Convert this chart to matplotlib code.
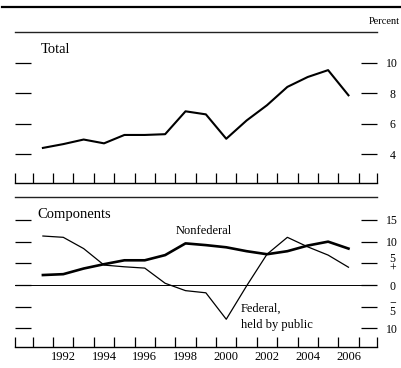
import numpy as np
import matplotlib
matplotlib.use("Agg")
import matplotlib.pyplot as plt
from matplotlib.lines import Line2D

plt.rcParams['font.family'] = ['Liberation Serif', 'DejaVu Serif']

# annual growth, percent
years = list(range(1991, 2007))
total = [4.4, 4.65, 4.95, 4.7, 5.25, 5.25, 5.3, 6.8, 6.6, 5.0, 6.2, 7.2, 8.4, 9.05, 9.5, 7.85]
nonfederal = [2.3, 2.5, 3.8, 4.8, 5.7, 5.7, 6.9, 9.6, 9.2, 8.7, 7.8, 7.1, 7.8, 9.1, 10.0, 8.4]
federal = [11.3, 11.0, 8.4, 4.6, 4.2, 3.9, 0.4, -1.3, -1.8, -7.9, -0.2, 7.1, 11.0, 8.8, 6.9, 4.1]

year_labels = ['1992', '1994', '1996', '1998', '2000', '2002', '2004', '2006']
total_ticks = [4, 6, 8, 10]
total_ticklabels = ['4', '6', '8', '10']
comp_ticks = [-10, -5, 0, 5, 10, 15]
comp_ticklabels = ['10', '\u2212\n5', '0', '5\n+', '10', '15']

W, H = 402, 368
fig = plt.figure(figsize=(W / 100, H / 100), dpi=100)

def box(x0, y0, x1, y1):
    return [x0 / W, 1 - y1 / H, (x1 - x0) / W, (y1 - y0) / H]

ax1 = fig.add_axes(box(15, 32, 377, 183))
ax2 = fig.add_axes(box(15, 197, 377, 347))

xpos = np.array(years) + 0.5
xlim = (1990.13, 2007.9)

for ax in (ax1, ax2):
    ax.set_xlim(*xlim)
    for s in ('left', 'right'):
        ax.spines[s].set_visible(False)
    ax.spines['top'].set_linewidth(1.0)
    ax.spines['top'].set_color('#222222')
    ax.spines['bottom'].set_linewidth(1.0)
    ax.set_xticks(list(range(1991, 2008)) + list(xlim), minor=True)
    ax.tick_params(axis='x', which='minor', direction='in', length=7.5, width=0.9, top=False)
    ax.tick_params(axis='y', which='major', direction='in', length=11.5, width=0.9,
                   left=True, right=True, labelleft=False, labelright=True,
                   labelsize=8.5, pad=11)
    ax.set_facecolor('none')

# top panel
ax1.plot(xpos, total, color='black', lw=1.5)
ax1.set_ylim(2.1, 12.0)
ax1.set_yticks(total_ticks)
ax1.set_yticklabels(total_ticklabels)
ax1.set_xticks([])
ax1.text(1991.4, 10.85, 'Total', fontsize=10.5, va='center', ha='left')

# bottom panel
ax2.axhline(0, color='black', lw=0.7)
ax2.plot(xpos, federal, color='black', lw=0.9)
ax2.plot(xpos, nonfederal, color='black', lw=1.9)
ax2.set_ylim(-14.3, 20.3)
ax2.set_yticks(comp_ticks)
ax2.set_yticklabels(comp_ticklabels, linespacing=0.75)
ax2.set_xticks([int(y) + 0.5 for y in year_labels])
ax2.set_xticklabels(year_labels, fontsize=9)
ax2.tick_params(axis='x', which='major', length=0, pad=3)
ax2.text(1991.25, 16.2, 'Components', fontsize=10.5, va='center', ha='left')
ax2.text(1998.0, 12.5, 'Nonfederal', fontsize=9, va='center', ha='left')
ax2.text(2001.2, -7.4, 'Federal,\nheld by public', fontsize=9, va='center', ha='left',
         linespacing=1.5)

for lab in ax1.get_yticklabels() + ax2.get_yticklabels():
    lab.set_horizontalalignment('center')

fig.text(400 / W, 1 - 22 / H, 'Percent', fontsize=7.5, ha='right', va='center')
fig.add_artist(Line2D([2 / W, 400 / W], [1 - 6.5 / H, 1 - 6.5 / H], color='black', lw=1.6))

fig.savefig('out.png', dpi=100)
